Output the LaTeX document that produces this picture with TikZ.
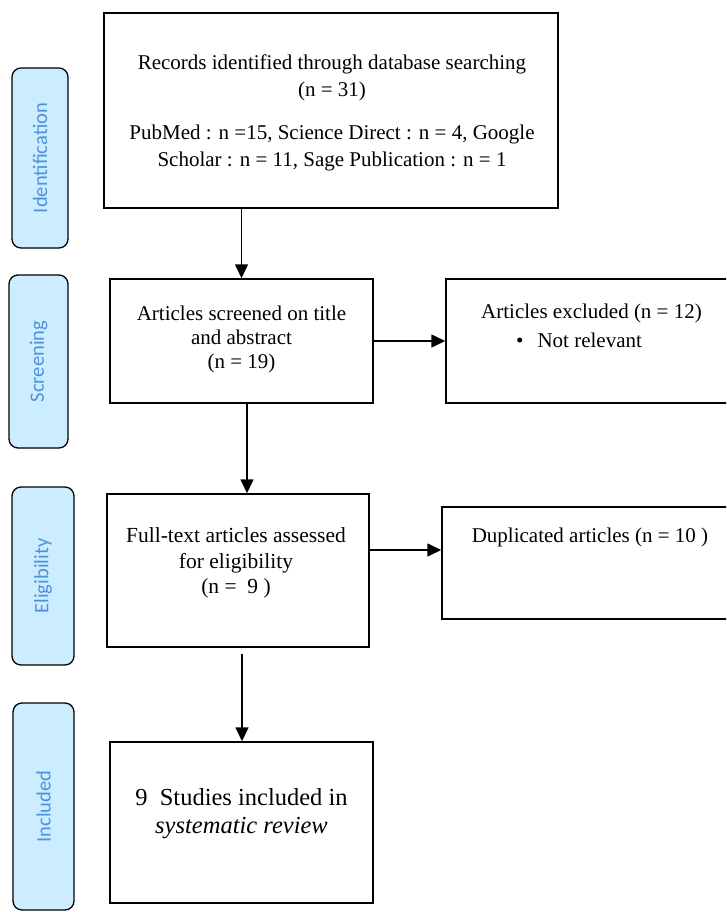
\documentclass[tikz,border=0pt]{standalone}
\usepackage{fontspec}
\setmainfont{Liberation Serif}
\newfontfamily\labfont{Carlito}
\usetikzlibrary{arrows.meta}
\definecolor{labfill}{RGB}{204,236,255}
\definecolor{labtext}{RGB}{78,146,222}
\begin{document}
\begin{tikzpicture}[x=1pt,y=-1pt,
  box/.style={draw=black, line width=1.5pt, rectangle, inner sep=0pt},
  side/.style={draw=black, line width=1.3pt, fill=labfill, rounded corners=9pt, inner sep=0pt},
  sidetext/.style={rotate=90, text=labtext, font=\labfont\fontsize{20.5}{24}\selectfont, inner sep=0pt},
  txt/.style={align=center, inner sep=0pt, font=\fontsize{21}{27}\selectfont},
  arr/.style={line width=1.6pt, -{Triangle[length=14pt,width=13pt]}}]
\useasboundingbox (0,0) rectangle (726,912);
\clip (0,0) rectangle (726,912);
\fill[white] (0,0) rectangle (726,912);

% side labels
\node[side, minimum width=56pt, minimum height=180pt] (sid) at (40,158) {};
\node[sidetext] (sidt) at (sid.center) {Identification};
\node[side, minimum width=59pt, minimum height=173pt] (ssc) at (38.5,361.5) {};
\node[sidetext] (ssct) at (ssc.center) {Screening};
\node[side, minimum width=62pt, minimum height=178pt] (sel) at (43,576) {};
\node[sidetext] (selt) at (sel.center) {Eligibility};
\node[side, minimum width=61pt, minimum height=207pt] (sin) at (43.5,806.5) {};
\node[sidetext] (sint) at (sin.center) {Included};

% boxes
\node[box, minimum width=454pt, minimum height=195pt] (rec) at (331,110.5) {};
\node[box, minimum width=263pt, minimum height=124pt] (scr) at (241.5,341) {};
\node[box, minimum width=291pt, minimum height=124pt] (exc) at (591.5,341) {};
\node[box, minimum width=262pt, minimum height=153pt] (ful) at (238,570.5) {};
\node[box, minimum width=296pt, minimum height=112pt] (dup) at (590,563) {};
\node[box, minimum width=263pt, minimum height=161pt] (stu) at (241.5,822.5) {};

% texts
\node[txt] (rect) at (332,113) {Records identified through database searching\\(n = 31)\\[16pt]PubMed : n =15, Science Direct : n = 4, Google\\Scholar : n = 11, Sage Publication : n = 1};
\node[txt, font=\fontsize{21}{24}\selectfont] (scrt) at (241.5,339) {Articles screened on title\\and abstract\\(n = 19)};
\node[txt] (exct1) at (591.5,313) {Articles excluded (n = 12)};
\node[txt, anchor=west] (exct2) at (516,340) {\textbullet\hspace{14pt}Not relevant};
\node[txt, font=\fontsize{21.5}{25.5}\selectfont] (fult) at (236,563) {Full-text articles assessed\\for eligibility\\(n = \ 9 )};
\node[txt] (dupt) at (590,537) {Duplicated articles (n = 10 )};
\node[txt, font=\fontsize{24.5}{28}\selectfont] (stut) at (241.5,814) {9\ \ Studies included in\\\textit{systematic review}};

% connectors
\draw[arr] (rec.south -| scr.north) -- (scr.north);
\draw[arr] ([xshift=5.5pt]scr.south) -- ([xshift=5.5pt]scr.south |- ful.north);
\draw[arr] (scr.east) -- (exc.west);
\draw[arr] (ful.east |- 0,550) -- (dup.west |- 0,550);
\draw[arr] ([xshift=4pt,yshift=-6pt]ful.south) -- ([xshift=4pt]ful.south |- stu.north);
\end{tikzpicture}
\end{document}
